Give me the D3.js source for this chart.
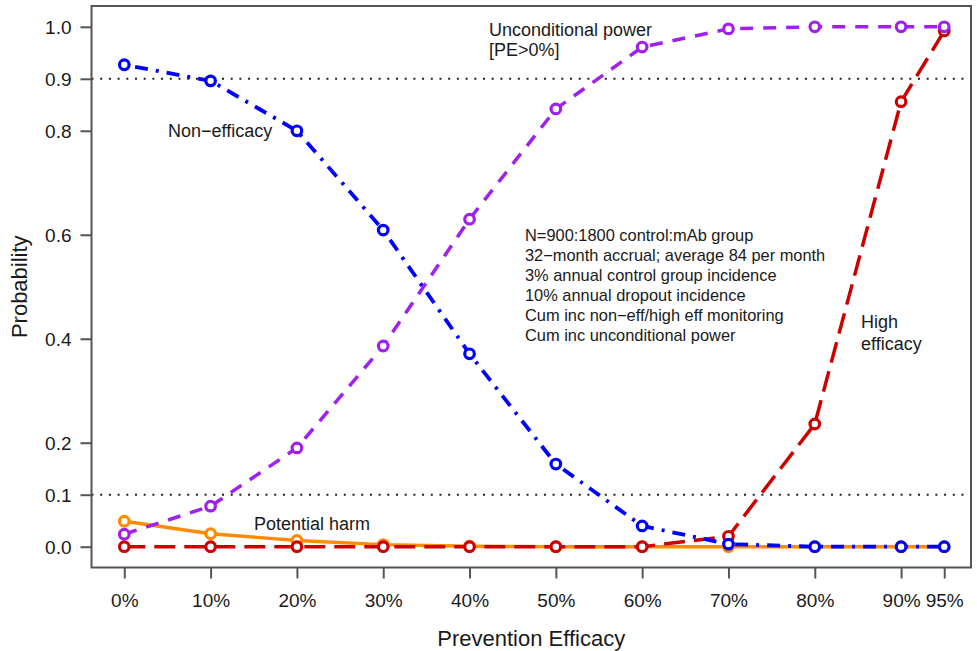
<!DOCTYPE html>
<html>
<head>
<meta charset="utf-8">
<script src="https://cdn.jsdelivr.net/npm/d3@7"></script>
<style>
  html, body { margin: 0; padding: 0; background: #fff; }
  svg { display: block; font-family: "Liberation Sans", Arial, Helvetica, sans-serif; }
</style>
</head>
<body>
<svg id="chart" width="977" height="651"></svg>
<script>
// ---- data ----
const efficacy = [0, 10, 20, 30, 40, 50, 60, 70, 80, 90, 95];
const xTickLabels = ["0%", "10%", "20%", "30%", "40%", "50%", "60%", "70%", "80%", "90%", "95%"];
const yTicks = [0.0, 0.1, 0.2, 0.4, 0.6, 0.8, 0.9, 1.0];
const nonEfficacy = [0.927, 0.896, 0.800, 0.609, 0.371, 0.159, 0.040, 0.005, 0.000, 0.000, 0.000];
const uncondPower = [0.024, 0.078, 0.190, 0.386, 0.630, 0.842, 0.961, 0.996, 1.000, 1.000, 1.000];
const highEfficacy = [0.000, 0.000, 0.000, 0.000, 0.000, 0.000, 0.000, 0.020, 0.236, 0.856, 0.992];
const potentialHarm = [0.049, 0.025, 0.012, 0.004, 0.001, 0.000, 0.000, 0.000, 0.000, 0.000, 0.000];
const refLines = [0.1, 0.9];
const annotationLines = [
  "N=900:1800 control:mAb group",
  "32\u2212month accrual; average 84 per month",
  "3% annual control group incidence",
  "10% annual dropout incidence",
  "Cum inc non\u2212eff/high eff monitoring",
  "Cum inc unconditional power"
];

// ---- layout ----
const svg = d3.select("#chart");
const pLeft = 91.5, pRight = 971, pTop = 6, pBottom = 567.5;
const x = d3.scaleLinear().domain([-3.8, 98.1]).range([pLeft, pRight]);
const y = d3.scaleLinear().domain([-0.04, 1.04]).range([pBottom, pTop]);
const textCol = "#1a1a1a", axisCol = "#555";

// reference dotted lines
svg.selectAll("line.ref").data(refLines).join("line")
  .attr("class", "ref")
  .attr("x1", pLeft).attr("x2", pRight)
  .attr("y1", d => y(d)).attr("y2", d => y(d))
  .attr("stroke", "#222").attr("stroke-width", 2)
  .attr("stroke-dasharray", "2,6.7");

// series
const series = [
  { name: "harm", values: potentialHarm, color: "#FF8C00", dash: null, width: 3.4 },
  { name: "high", values: highEfficacy, color: "#CD0000", dash: "21,9", width: 3.5 },
  { name: "nonEff", values: nonEfficacy, color: "#0000FF", dash: "3,8,13,8", width: 3.8 },
  { name: "power", values: uncondPower, color: "#A020F0", dash: "13,10", width: 3.5 }
];
series.forEach(s => {
  const pts = efficacy.map((e, i) => [e, s.values[i]]);
  const line = d3.line().x(d => x(d[0])).y(d => y(d[1])).curve(d3.curveLinear);
  svg.append("path").datum(pts)
    .attr("d", line)
    .attr("fill", "none")
    .attr("stroke", s.color)
    .attr("stroke-width", s.width)
    .attr("stroke-dasharray", s.dash)
    .attr("stroke-linecap", "butt");
  svg.append("g").selectAll("circle").data(pts).join("circle")
    .attr("cx", d => x(d[0])).attr("cy", d => y(d[1]))
    .attr("r", 4.8)
    .attr("fill", "#fff")
    .attr("stroke", s.color)
    .attr("stroke-width", 3.2);
});

// box
svg.append("rect")
  .attr("x", pLeft).attr("y", pTop)
  .attr("width", pRight - pLeft).attr("height", pBottom - pTop)
  .attr("fill", "none").attr("stroke", axisCol).attr("stroke-width", 2);

// y axis
const yAxis = d3.axisLeft(y).tickValues(yTicks).tickFormat(d3.format(".1f")).tickSize(11).tickPadding(9);
const gy = svg.append("g").attr("transform", `translate(${pLeft},0)`).call(yAxis);
gy.select(".domain").remove();
gy.selectAll(".tick line").attr("stroke", axisCol).attr("stroke-width", 2);
gy.selectAll(".tick text").attr("fill", textCol).style("font-size", "19px")
  .style("font-family", "'Liberation Sans', Arial, sans-serif").attr("dy", "0.36em");

// x axis
const xAxis = d3.axisBottom(x).tickValues(efficacy)
  .tickFormat((d, i) => xTickLabels[i]).tickSize(11).tickPadding(15);
const gx = svg.append("g").attr("transform", `translate(0,${pBottom})`).call(xAxis);
gx.select(".domain").remove();
gx.selectAll(".tick line").attr("stroke", axisCol).attr("stroke-width", 2);
gx.selectAll(".tick text").attr("fill", textCol).style("font-size", "19px")
  .style("font-family", "'Liberation Sans', Arial, sans-serif");

// axis titles
svg.append("text").attr("x", (pLeft + pRight) / 2).attr("y", 646)
  .attr("text-anchor", "middle").attr("fill", textCol).style("font-size", "22px")
  .text("Prevention Efficacy");
svg.append("text").attr("transform", `translate(27,${(pTop + pBottom) / 2}) rotate(-90)`)
  .attr("text-anchor", "middle").attr("fill", textCol).style("font-size", "22px")
  .text("Probability");

// labels
const labels = [
  { t: "Unconditional power", x: 489, y: 36 },
  { t: "[PE>0%]", x: 489, y: 56 },
  { t: "Non\u2212efficacy", x: 168, y: 137 },
  { t: "Potential harm", x: 254, y: 530 },
  { t: "High", x: 861, y: 328 },
  { t: "efficacy", x: 861, y: 350 }
];
svg.selectAll("text.lab").data(labels).join("text")
  .attr("class", "lab")
  .attr("x", d => d.x).attr("y", d => d.y)
  .attr("fill", textCol).style("font-size", "18px")
  .text(d => d.t);

svg.selectAll("text.ann").data(annotationLines).join("text")
  .attr("class", "ann")
  .attr("x", 525).attr("y", (d, i) => 240.5 + i * 20)
  .attr("fill", textCol).style("font-size", "16.4px")
  .text(d => d);
</script>
</body>
</html>
